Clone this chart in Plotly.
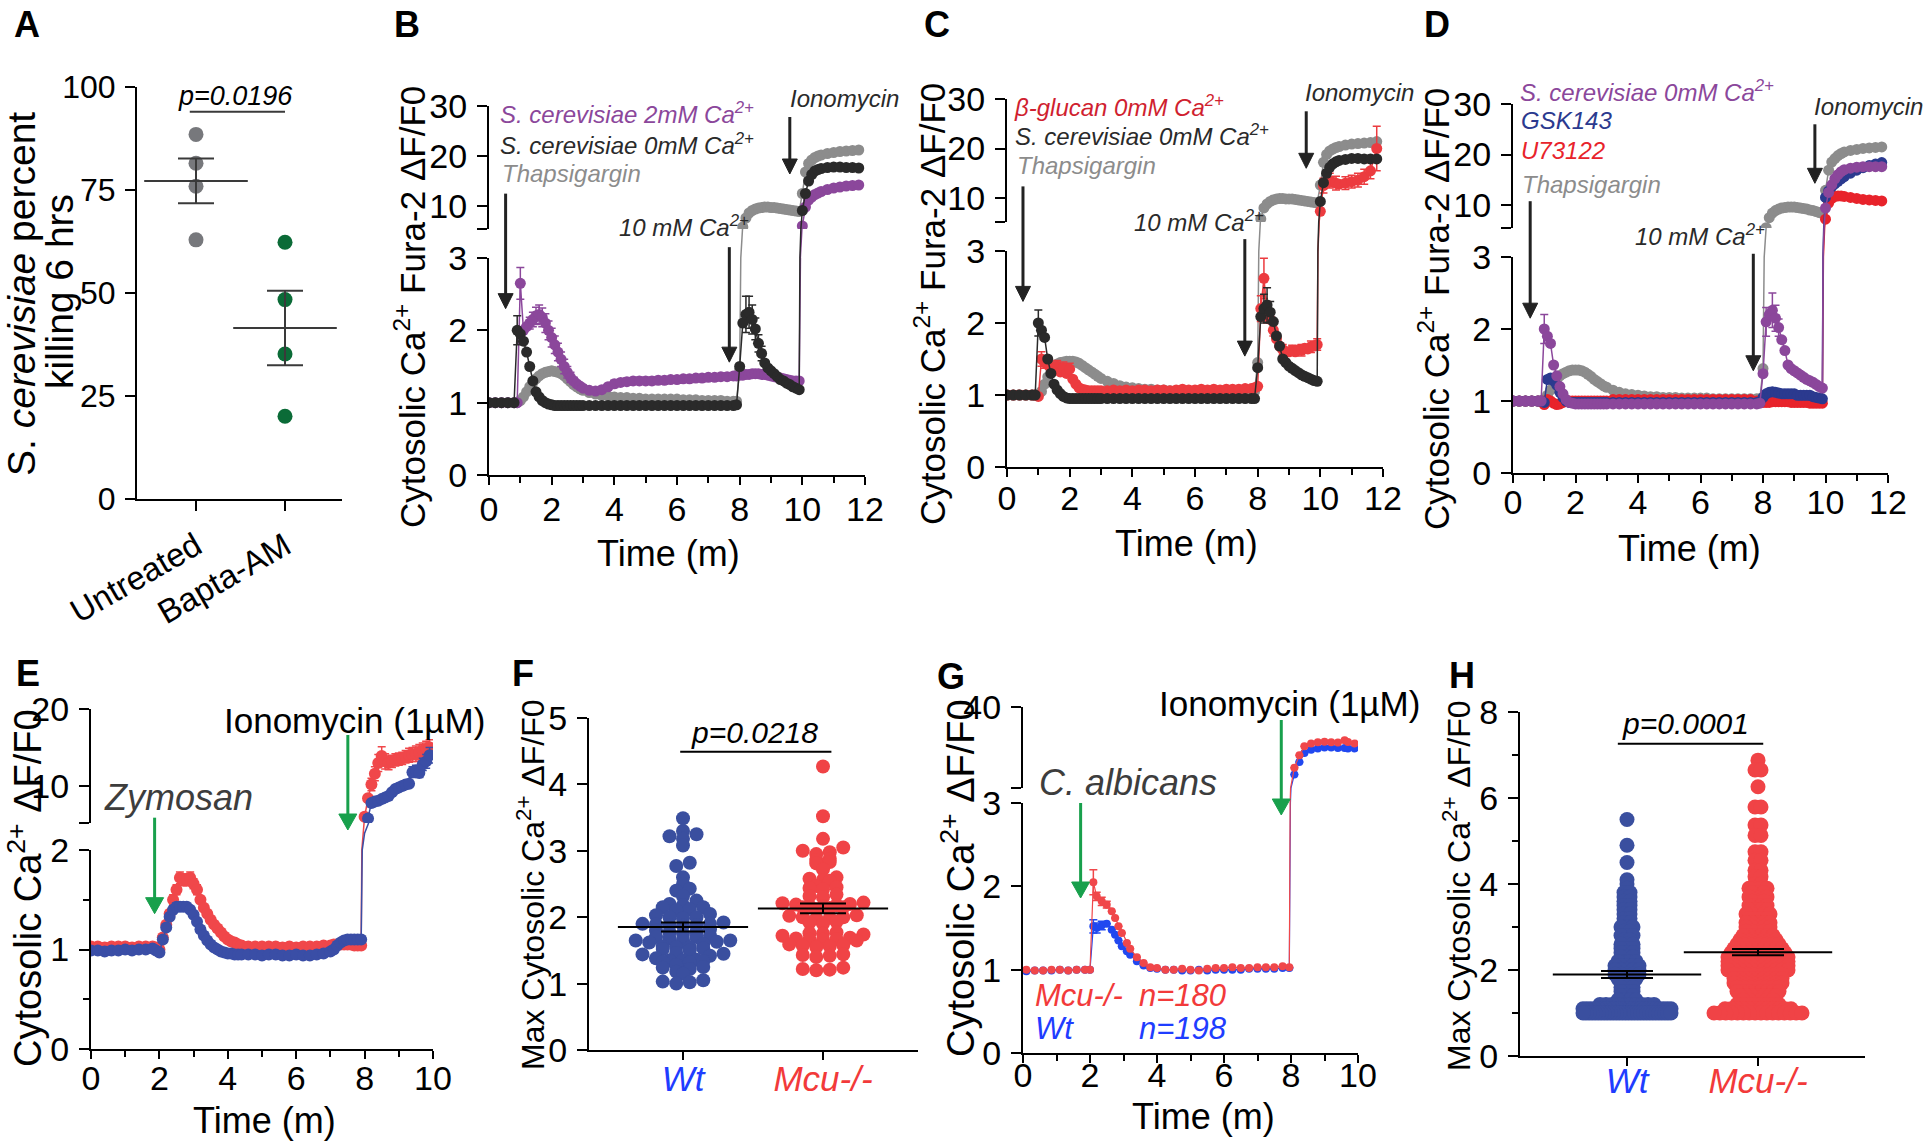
import math
import numpy as np
import plotly.graph_objects as go

# ======================= DATA =======================
# ---- Panel A ----
A_CATEGORIES = ["Untreated", "Bapta-AM"]
A_UNTREATED = [88.5, 81.5, 75.9, 62.9]
A_BAPTA = [62.3, 48.4, 35.2, 20.1]

# ---- Panels B-D (time in minutes) ----
TIME_BCD = [0.0, 0.2, 0.4, 0.6, 0.8,
            0.9, 1.0, 1.1, 1.2, 1.3, 1.4, 1.5, 1.6, 1.7, 1.8, 1.9, 2.0, 2.1, 2.2, 2.3, 2.4, 2.5, 2.6, 2.7, 2.8, 2.9, 3.0,
            3.2, 3.4, 3.6, 3.8, 4.0, 4.2, 4.4, 4.6, 4.8, 5.0, 5.2, 5.4, 5.6, 5.8, 6.0, 6.2, 6.4, 6.6, 6.8, 7.0, 7.2, 7.4, 7.6,
            7.8, 7.9, 8.0, 8.1, 8.2, 8.3, 8.4, 8.5, 8.6, 8.7, 8.8, 8.9, 9.0, 9.1, 9.2, 9.3, 9.4, 9.5, 9.6, 9.7, 9.8, 9.9,
            10.0, 10.1, 10.2, 10.3, 10.4, 10.5, 10.6,
            10.8, 11.0, 11.2, 11.4, 11.6, 11.8]

B_SC_2MM = [1.0, 1.0, 1.0, 1.0, 1.0,
            1.0, 2.65, 2.0, 2.05, 2.1, 2.15, 2.2, 2.22, 2.18, 2.1, 2.0, 1.9, 1.8, 1.7, 1.6, 1.5, 1.42, 1.35, 1.3, 1.26, 1.23, 1.2,
            1.17, 1.16, 1.18, 1.22, 1.26, 1.28, 1.29, 1.3, 1.3, 1.3, 1.3, 1.31, 1.31, 1.32, 1.32, 1.33, 1.33, 1.34, 1.34, 1.35, 1.35, 1.36, 1.36,
            1.37, 1.37, 1.38, 1.38, 1.39, 1.39, 1.4, 1.4, 1.4, 1.39, 1.39, 1.38, 1.37, 1.36, 1.35, 1.34, 1.33, 1.32, 1.31, 1.3, 1.3, 1.3,
            6.0, 9.8, 11.2, 11.8, 12.3, 12.6, 12.9,
            13.3, 13.6, 13.8, 14.0, 14.1, 14.2]
B_SC_0MM = [1.0, 1.0, 1.0, 1.0, 1.0,
            2.0, 1.95, 1.85, 1.7, 1.5, 1.3, 1.15, 1.08, 1.03, 1.0, 0.98, 0.97, 0.96, 0.96, 0.96, 0.96, 0.96, 0.96, 0.96, 0.96, 0.96, 0.96,
            0.96, 0.96, 0.96, 0.96, 0.96, 0.96, 0.96, 0.96, 0.96, 0.96, 0.96, 0.96, 0.96, 0.96, 0.96, 0.96, 0.96, 0.96, 0.96, 0.96, 0.96, 0.96, 0.96,
            0.96, 0.97, 1.5, 2.1, 2.22, 2.25, 2.15, 2.02, 1.82, 1.68, 1.55, 1.48, 1.44, 1.4, 1.36, 1.32, 1.3, 1.27, 1.25, 1.22, 1.2, 1.18,
            9.1, 12.5, 15.0, 16.3, 17.0, 17.3, 17.5,
            17.7, 17.8, 17.8, 17.7, 17.7, 17.6]
B_THAPS = [1.0, 1.0, 1.0, 1.0, 1.0,
           1.0, 1.03, 1.08, 1.15, 1.22, 1.28, 1.33, 1.37, 1.4, 1.42, 1.43, 1.44, 1.43, 1.42, 1.4, 1.37, 1.33, 1.29, 1.25, 1.22, 1.19, 1.17,
           1.14, 1.12, 1.1, 1.09, 1.08, 1.07, 1.07, 1.06, 1.06, 1.05, 1.05, 1.05, 1.05, 1.05, 1.05, 1.04, 1.04, 1.04, 1.03, 1.03, 1.03, 1.03, 1.02,
           1.02, 1.02, 1.45, 5.8, 7.6, 8.6, 9.1, 9.4, 9.6, 9.7, 9.8, 9.8, 9.7, 9.7, 9.6, 9.5, 9.4, 9.3, 9.2, 9.1, 9.0, 8.9,
           12.5, 16.8, 18.5, 19.2, 19.7, 20.0, 20.2,
           20.5, 20.7, 20.9, 21.0, 21.1, 21.2]
B_SC_2MM_ERR = {1.0: 0.22, 1.3: 0.08, 1.4: 0.1, 1.5: 0.12, 1.6: 0.13, 1.7: 0.13, 1.8: 0.13, 1.9: 0.13, 2.0: 0.13,
                2.1: 0.12, 2.2: 0.12, 2.3: 0.1, 2.4: 0.1, 2.5: 0.08, 2.6: 0.07, 2.7: 0.05, 4.0: 0.05, 4.4: 0.05,
                4.8: 0.05, 5.2: 0.05, 5.6: 0.05, 6.0: 0.05, 6.4: 0.05, 6.8: 0.05, 7.2: 0.05, 7.6: 0.05}
B_SC_0MM_ERR = {0.9: 0.2, 8.2: 0.25, 8.3: 0.22, 8.4: 0.2, 8.5: 0.15, 8.6: 0.12, 8.7: 0.1}

C_BGLUCAN = [1.0, 1.0, 1.0, 1.0, 1.0,
             1.0, 0.98, 1.5, 1.45, 1.42, 1.38, 1.35, 1.4, 1.32, 1.38, 1.3, 1.36, 1.22, 1.15, 1.1, 1.08, 1.07, 1.06, 1.06, 1.06, 1.06, 1.06,
             1.06, 1.07, 1.06, 1.07, 1.06, 1.07, 1.07, 1.06, 1.07, 1.07, 1.06, 1.07, 1.08, 1.07, 1.07, 1.08, 1.07, 1.08, 1.07, 1.08, 1.08, 1.08, 1.09,
             1.09, 1.1, 1.12, 2.2, 2.62, 2.15, 2.05, 1.9, 1.78, 1.68, 1.63, 1.6, 1.6, 1.62, 1.6, 1.63, 1.62, 1.65, 1.64, 1.67, 1.68, 1.7,
             7.3, 12.5, 13.2, 13.5, 13.2, 13.0, 12.8,
             13.0, 13.3, 13.6, 14.3, 15.5, 20.0]
C_SC_0MM = [1.0, 1.0, 1.0, 1.0, 1.0,
            1.0, 2.0, 1.9, 1.8, 1.5, 1.3, 1.15, 1.07, 1.02, 0.98, 0.96, 0.95, 0.95, 0.95, 0.95, 0.95, 0.95, 0.95, 0.95, 0.95, 0.95, 0.95,
            0.95, 0.95, 0.95, 0.95, 0.95, 0.95, 0.95, 0.95, 0.95, 0.95, 0.95, 0.95, 0.95, 0.95, 0.95, 0.95, 0.95, 0.95, 0.95, 0.95, 0.95, 0.95, 0.95,
            0.95, 0.95, 1.38, 2.09, 2.2, 2.25, 2.15, 2.02, 1.82, 1.68, 1.5, 1.45, 1.4, 1.37, 1.34, 1.31, 1.28, 1.26, 1.24, 1.22, 1.2, 1.19,
            9.3, 13.1, 15.0, 16.2, 16.9, 17.3, 17.6,
            17.8, 18.0, 18.0, 17.9, 17.9, 17.9]
C_THAPS = [1.0, 1.0, 1.0, 1.0, 1.0,
           1.0, 1.0, 1.05, 1.15, 1.25, 1.35, 1.4, 1.43, 1.45, 1.46, 1.47, 1.47, 1.47, 1.46, 1.44, 1.41, 1.38, 1.35, 1.32, 1.29, 1.26, 1.23,
           1.19, 1.16, 1.13, 1.11, 1.1, 1.09, 1.08, 1.08, 1.07, 1.07, 1.06, 1.06, 1.06, 1.06, 1.06, 1.05, 1.05, 1.05, 1.05, 1.05, 1.05, 1.05, 1.05,
           1.05, 1.05, 1.45, 5.8, 8.0, 8.8, 9.3, 9.6, 9.8, 9.9, 9.9, 9.8, 9.8, 9.8, 9.7, 9.6, 9.5, 9.4, 9.3, 9.2, 9.1, 9.0,
           12.6, 17.2, 18.8, 19.5, 19.9, 20.2, 20.4,
           20.7, 20.9, 21.0, 21.1, 21.2, 21.4]
C_SC_0MM_ERR = {1.0: 0.18, 8.2: 0.2, 8.3: 0.24, 8.4: 0.15}
C_BGLUCAN_ERR = {1.1: 0.1, 1.2: 0.08, 1.4: 0.08, 1.6: 0.08, 1.8: 0.08, 2.0: 0.08, 8.1: 0.18, 8.2: 0.28, 8.3: 0.15,
                 8.5: 0.08, 8.8: 0.07, 9.1: 0.07, 9.4: 0.08, 9.7: 0.08, 9.9: 0.08, 10.1: 1.5, 10.3: 1.5, 10.5: 1.4,
                 10.8: 1.3, 11.0: 1.3, 11.2: 1.4, 11.4: 1.5, 11.6: 1.6, 11.8: 4.5}

D_SC_0MM = [1.0, 1.0, 1.0, 1.0, 1.0,
            1.0, 2.0, 1.9, 1.8, 1.5, 1.35, 1.2, 1.1, 1.02, 0.98, 0.97, 0.96, 0.96, 0.96, 0.96, 0.96, 0.96, 0.96, 0.96, 0.96, 0.96, 0.96,
            0.96, 0.96, 0.96, 0.96, 0.96, 0.96, 0.96, 0.96, 0.96, 0.96, 0.96, 0.96, 0.96, 0.96, 0.96, 0.96, 0.96, 0.96, 0.96, 0.96, 0.96, 0.96, 0.96,
            0.96, 0.97, 1.38, 2.1, 2.2, 2.26, 2.15, 2.02, 1.85, 1.7, 1.5, 1.45, 1.42, 1.39, 1.36, 1.33, 1.3, 1.28, 1.26, 1.23, 1.2, 1.18,
            9.4, 12.5, 14.0, 15.2, 16.0, 16.6, 17.0,
            17.3, 17.5, 17.6, 17.6, 17.6, 17.6]
D_GSK143 = [1.0, 1.0, 1.0, 1.0, 1.0,
            1.0, 0.98, 1.3, 1.32, 1.28, 1.22, 1.12, 1.05, 1.0, 0.98, 0.98, 0.98, 0.98, 0.98, 0.98, 0.98, 0.98, 0.98, 0.98, 0.98, 0.98, 0.98,
            0.98, 0.98, 0.98, 0.98, 0.98, 0.98, 0.98, 0.98, 0.98, 0.98, 0.98, 0.98, 0.98, 0.98, 0.98, 0.98, 0.98, 0.98, 0.98, 0.98, 0.98, 0.98, 0.98,
            0.98, 0.98, 1.05, 1.1, 1.12, 1.13, 1.12, 1.11, 1.1, 1.1, 1.1, 1.1, 1.1, 1.08, 1.08, 1.08, 1.08, 1.08, 1.06, 1.05, 1.04, 1.03,
            11.5, 12.8, 13.6, 14.2, 14.7, 15.2, 15.6,
            16.3, 16.9, 17.4, 17.8, 18.1, 18.4]
D_U73122 = [1.0, 1.0, 1.0, 1.0, 1.0,
            1.0, 0.95, 1.02, 1.0, 0.97, 0.95, 0.96, 0.98, 1.0, 1.0, 1.0, 1.0, 1.0, 1.0, 1.0, 1.0, 1.0, 1.0, 1.0, 1.0, 1.0, 1.0,
            1.02, 1.02, 1.02, 1.02, 1.02, 1.02, 1.02, 1.02, 1.02, 1.02, 1.02, 1.02, 1.02, 1.02, 1.02, 1.02, 1.02, 1.02, 1.02, 1.02, 1.02, 1.02, 1.02,
            1.0, 1.0, 0.98, 0.98, 0.98, 0.99, 0.99, 0.99, 0.99, 0.99, 0.99, 0.98, 0.98, 0.98, 0.98, 0.98, 0.98, 0.97, 0.97, 0.97, 0.97, 0.97,
            7.2, 10.4, 11.3, 11.7, 11.8, 11.8, 11.7,
            11.5, 11.3, 11.1, 11.0, 10.9, 10.8]
D_THAPS = [1.0, 1.0, 1.0, 1.0, 1.0,
           1.0, 1.0, 1.08, 1.15, 1.23, 1.3, 1.35, 1.38, 1.4, 1.42, 1.43, 1.43, 1.43, 1.42, 1.4, 1.37, 1.34, 1.3, 1.27, 1.24, 1.21, 1.19,
           1.15, 1.12, 1.1, 1.09, 1.08, 1.07, 1.06, 1.06, 1.05, 1.05, 1.05, 1.04, 1.04, 1.04, 1.04, 1.04, 1.03, 1.03, 1.03, 1.03, 1.03, 1.03, 1.03,
           1.03, 1.03, 1.45, 5.5, 7.5, 8.4, 8.9, 9.2, 9.4, 9.5, 9.6, 9.6, 9.6, 9.5, 9.4, 9.3, 9.2, 9.0, 8.9, 8.7, 8.5, 8.3,
           12.9, 16.9, 18.5, 19.2, 19.8, 20.2, 20.5,
           20.8, 21.0, 21.2, 21.3, 21.4, 21.5]
D_SC_0MM_ERR = {1.0: 0.2, 8.1: 0.2, 8.3: 0.24, 8.4: 0.18, 8.5: 0.12}

# ---- Panel E (zymosan) ----
TIME_E = [0.0, 0.2, 0.4, 0.6, 0.8, 1.0, 1.2, 1.4, 1.6, 1.8,
          1.9, 2.0, 2.1, 2.2, 2.3, 2.4, 2.5, 2.6, 2.7, 2.8, 2.9, 3.0, 3.1, 3.2, 3.3, 3.4, 3.5, 3.6, 3.7, 3.8, 3.9, 4.0, 4.1, 4.2, 4.3, 4.4,
          4.6, 4.8, 5.0, 5.2, 5.4, 5.6, 5.8, 6.0, 6.2, 6.4, 6.6, 6.8, 7.0,
          7.1, 7.2, 7.3, 7.4, 7.5, 7.6, 7.7, 7.8, 7.9, 8.0, 8.1, 8.2, 8.3, 8.4, 8.5, 8.6, 8.7, 8.8, 8.9, 9.0, 9.1, 9.2, 9.3, 9.4,
          9.5, 9.6, 9.7, 9.8, 9.9]
E_MCU = [1.03, 1.03, 1.02, 1.03, 1.03, 1.03, 1.02, 1.03, 1.03, 1.03,
         1.02, 1.0, 1.12, 1.25, 1.36, 1.5, 1.6, 1.72, 1.7, 1.7, 1.72, 1.66, 1.6, 1.5, 1.42, 1.36, 1.3, 1.25, 1.21, 1.17, 1.13, 1.1, 1.08, 1.07, 1.05, 1.04,
         1.03, 1.03, 1.03, 1.03, 1.03, 1.02, 1.03, 1.02, 1.03, 1.03, 1.03, 1.04, 1.04,
         1.05, 1.05, 1.05, 1.05, 1.05, 1.05, 1.04, 1.04, 1.04, 6.0, 8.4, 10.2, 11.6, 13.0, 13.9, 13.2, 13.0, 13.2, 13.4, 13.5, 13.6, 13.8, 14.0, 14.1,
         14.2, 14.4, 14.6, 14.8, 15.0]
E_WT = [0.99, 0.99, 0.98, 0.99, 0.99, 1.0, 0.99, 1.0, 1.0, 1.01,
        0.99, 0.97, 1.1, 1.22, 1.33, 1.4, 1.43, 1.43, 1.43, 1.43, 1.4, 1.35, 1.28, 1.2, 1.14, 1.09, 1.05, 1.02, 1.0, 0.98, 0.97, 0.96, 0.96, 0.95, 0.95, 0.95,
        0.95, 0.95, 0.94, 0.95, 0.95, 0.94, 0.94, 0.95, 0.94, 0.94, 0.95, 0.96, 0.98,
        1.0, 1.04, 1.07, 1.09, 1.1, 1.1, 1.1, 1.1, 1.1, 4.0, 5.8, 7.8, 8.0, 8.1, 8.3, 8.5, 8.7, 9.2, 9.6, 9.8, 10.0, 10.2, 10.3, 11.8,
        12.0, 11.7, 12.8, 13.2, 14.0]
E_MCU_ERR = {2.4: 0.05, 2.5: 0.05, 2.6: 0.06, 2.7: 0.06, 2.8: 0.06, 2.9: 0.06, 3.0: 0.05, 3.1: 0.05, 8.2: 0.8, 8.3: 0.9,
             8.4: 1.1, 8.5: 1.2, 8.6: 1.0, 8.7: 0.9, 8.8: 0.8, 8.9: 0.8, 9.0: 0.8, 9.1: 0.8, 9.2: 0.8, 9.3: 0.9, 9.4: 0.9,
             9.5: 1.0, 9.6: 1.0, 9.7: 1.0, 9.8: 1.0, 9.9: 1.0}
E_WT_ERR = {2.4: 0.04, 2.5: 0.04, 2.6: 0.04, 2.7: 0.04, 9.4: 0.7, 9.5: 0.7, 9.6: 0.6, 9.7: 0.8, 9.8: 0.9, 9.9: 1.0}

# ---- Panel F ----
F_CATEGORIES = ["Wt", "Mcu-/-"]
F_WT = [3.49, 3.30, 3.25, 3.22, 3.18, 3.08, 2.82, 2.77, 2.60, 2.50, 2.43, 2.40, 2.32, 2.25, 2.20,
        2.18, 2.15, 2.15, 2.12, 2.10, 2.05, 2.03, 2.00, 2.00, 1.98, 1.92, 1.90, 1.90, 1.89, 1.88, 1.88, 1.87,
        1.82, 1.80, 1.78, 1.77, 1.75, 1.72, 1.70, 1.70, 1.68, 1.66, 1.65, 1.65, 1.63, 1.62, 1.60,
        1.56, 1.55, 1.55, 1.53, 1.52, 1.50, 1.46, 1.45, 1.44, 1.42, 1.38, 1.36, 1.35, 1.35, 1.34, 1.33, 1.32,
        1.28, 1.25, 1.24, 1.22, 1.18, 1.15, 1.05, 1.03, 1.02, 1.00]
F_MCU = [4.27, 3.52, 3.18, 3.05, 3.00, 2.98, 2.95, 2.88, 2.86, 2.83, 2.81, 2.72,
         2.60, 2.58, 2.56, 2.55, 2.47, 2.45, 2.44, 2.42, 2.34, 2.32, 2.30,
         2.22, 2.21, 2.20, 2.19, 2.18, 2.17, 2.16, 2.15, 2.15, 2.14, 2.12,
         2.03, 2.02, 2.00, 2.00, 1.99, 1.98, 1.93, 1.92, 1.90,
         1.77, 1.76, 1.75, 1.74, 1.72, 1.69, 1.68, 1.67, 1.66, 1.66, 1.65,
         1.59, 1.58, 1.57, 1.56, 1.55, 1.44, 1.43, 1.42, 1.40, 1.24, 1.22, 1.21, 1.20]

# ---- Panel G (C. albicans) ----
TIME_G = [0.1, 0.35, 0.6, 0.85, 1.1, 1.35, 1.6, 1.85,
          2.0, 2.1, 2.2, 2.35, 2.5, 2.65, 2.75, 2.85, 2.95, 3.1, 3.2, 3.4, 3.6, 3.8, 4.0,
          4.25, 4.5, 4.75, 5.0, 5.25, 5.5, 5.75, 6.0, 6.25, 6.5, 6.75, 7.0, 7.25, 7.5, 7.75,
          7.95, 8.1, 8.25, 8.4, 8.6, 8.8, 9.0, 9.2, 9.4, 9.6, 9.7, 9.9]
G_MCU = [1.0, 0.99, 0.99, 1.0, 1.0, 0.99, 1.0, 1.0,
         1.0, 2.05, 1.88, 1.82, 1.78, 1.7, 1.62, 1.52, 1.44, 1.32, 1.25, 1.15, 1.08, 1.03, 1.02,
         1.0, 1.0, 1.01, 1.0, 0.99, 1.01, 1.02, 1.02, 1.03, 1.02, 1.02, 1.03, 1.03, 1.03, 1.04,
         1.03, 13.0, 18.5, 22.5, 23.8, 24.3, 24.6, 24.3, 24.2, 25.2, 24.5, 23.8]
G_WT = [0.98, 0.99, 0.99, 0.99, 1.0, 0.99, 1.0, 1.0,
        1.0, 1.52, 1.5, 1.53, 1.55, 1.48, 1.42, 1.35, 1.28, 1.22, 1.18, 1.1, 1.05, 1.02, 1.01,
        1.0, 1.0, 0.99, 0.99, 1.0, 0.99, 1.0, 1.0, 1.0, 1.0, 1.01, 1.01, 1.01, 1.01, 1.02,
        1.02, 10.0, 15.5, 19.5, 21.0, 21.6, 22.0, 22.0, 21.8, 21.8, 21.6, 21.6]
G_MCU_ERR = {2.1: 0.15, 2.2: 0.05, 2.35: 0.05, 2.5: 0.04}
G_WT_ERR = {2.1: 0.08, 2.2: 0.06, 2.35: 0.05}

# ---- Panel H (value levels and number of cells at each level) ----
H_WT_LEVELS = [5.5, 4.9, 4.5, 4.1, 4.0, 3.9, 3.8, 3.7, 3.6, 3.5, 3.4, 3.3, 3.2, 3.1, 3.0, 2.9, 2.8, 2.7,
               2.6, 2.5, 2.4, 2.3, 2.2, 2.1, 2.0, 1.9, 1.8, 1.7, 1.6, 1.5, 1.4, 1.3, 1.2, 1.1, 1.0]
H_WT_COUNTS = [1, 1, 1, 1, 1, 1, 2, 2, 2, 2, 2, 2, 2, 2, 3, 2, 3, 2,
               3, 3, 3, 3, 4, 5, 5, 5, 4, 3, 3, 3, 3, 4, 10, 24, 30]
H_MCU_LEVELS = [6.88, 6.65, 6.26, 5.79, 5.37, 5.13, 4.75, 4.55, 4.32, 4.17, 4.0,
                3.9, 3.8, 3.7, 3.6, 3.5, 3.4, 3.3, 3.2, 3.1, 3.0, 2.9, 2.8, 2.7, 2.6, 2.5, 2.4, 2.3, 2.2, 2.1, 2.0,
                1.9, 1.8, 1.7, 1.6, 1.5, 1.4, 1.3, 1.2, 1.1, 1.0]
H_MCU_COUNTS = [1, 2, 1, 2, 2, 2, 2, 2, 2, 2, 2,
                4, 3, 4, 3, 4, 4, 5, 4, 5, 5, 5, 6, 7, 8, 9, 10, 11, 11, 11, 11,
                9, 9, 9, 8, 8, 7, 6, 8, 12, 16]

P_TEXT_A = "p=0.0196"
P_TEXT_F = "p=0.0218"
P_TEXT_H = "p=0.0001"

# ======================= STYLE / GEOMETRY =======================
W, H = 1924, 1143
FONT = "Liberation Sans, Arial, Helvetica, sans-serif"
NARROW = "Liberation Sans Narrow, Arial Narrow, Liberation Sans, Arial, sans-serif"

PURPLE = "#8b479b"
DARK = "#2a2a2a"
GRAY = "#8c8c8c"
RED = "#ec3b3f"
CRIMSON = "#d01f30"
NAVY = "#2b3a8f"
DRED = "#e8232b"
E_RED = "#f0474a"
E_BLUE = "#3a4ea6"
G_BLUE = "#2148f0"
WT_MK = "#3a4f9f"
MCU_MK = "#f04346"
TXT_BLUE = "#1f3dff"
TXT_RED = "#f23a3a"
GREEN = "#18a04c"
A_GRAY = "#77787c"
A_GREEN = "#0b6b37"
LBL_GRAY = "#3d3d3d"
TICK_SIZE = 34


def xdom(a, b):
    return [a / W, b / W]


def ydom(top, bottom):
    return [1 - bottom / H, 1 - top / H]


def px(x):
    return x / W


def py(y):
    return 1 - y / H


def xr(n):
    return "x" if n == 1 else f"x{n}"


def yr(n):
    return "y" if n == 1 else f"y{n}"


def xk(n):
    return "xaxis" if n == 1 else f"xaxis{n}"


def yk(n):
    return "yaxis" if n == 1 else f"yaxis{n}"


fig = go.Figure()
layout = dict(template="none", width=W, height=H, autosize=False,
              margin=dict(l=0, r=0, t=0, b=0, pad=0, autoexpand=False), paper_bgcolor="white",
              plot_bgcolor="rgba(0,0,0,0)", showlegend=False, font=dict(family=FONT, color="black"))
annotations = []
shapes = []
YGEOM = {}   # y-axis number -> (top px, bottom px, lo, hi)

MINOR = dict(ticks="outside", ticklen=6, tickwidth=2, tickcolor="black")


def base_axis(**kw):
    d = dict(showgrid=False, zeroline=False, showline=True, linecolor="black", linewidth=2,
             ticks="outside", ticklen=10, tickwidth=2, tickcolor="black", fixedrange=True, automargin=False,
             tickfont=dict(family=FONT, size=TICK_SIZE, color="black"), ticklabelstandoff=3)
    d.update(kw)
    return d


def ypaper(yn, v):
    top, bottom, lo, hi = YGEOM[yn]
    return py(bottom - (v - lo) / (hi - lo) * (bottom - top))


def time_panel(xn, yns, xpx, xmax, lower_px, lower_rng, lower_ticks, upper_px, upper_rng,
               upper_ticks, upper_break, xstand, lower_minor=None):
    yl, yg, yu = yns
    layout[xk(xn)] = base_axis(domain=xdom(*xpx), range=[0, xmax], anchor=yr(yl), tickmode="array",
                               tickvals=list(range(0, xmax + 1, 2)), ticklen=8, ticklabelstandoff=xstand,
                               minor=dict(tickmode="linear", tick0=0, dtick=1, **MINOR))
    ly = base_axis(domain=ydom(*lower_px), range=lower_rng, anchor=xr(xn), tickmode="array",
                   tickvals=lower_ticks)
    if lower_minor:
        ly["minor"] = dict(tickmode="array", tickvals=lower_minor, **MINOR)
    layout[yk(yl)] = ly
    YGEOM[yl] = (lower_px[0], lower_px[1], lower_rng[0], lower_rng[1])
    YGEOM[yu] = (upper_px[0], upper_px[1], upper_rng[0], upper_rng[1])
    layout[yk(yg)] = dict(domain=ydom(upper_px[1], lower_px[0]), range=[lower_rng[1], upper_rng[0]],
                          anchor=xr(xn), visible=False, fixedrange=True, automargin=False)
    layout[yk(yu)] = base_axis(domain=ydom(*upper_px), range=upper_rng, anchor=xr(xn), tickmode="array",
                               tickvals=upper_ticks,
                               minor=dict(tickmode="array", tickvals=[upper_break], ticks="outside",
                                          ticklen=10, tickwidth=2, tickcolor="black"))


def add_series(xn, yns, t, v, color, size, err=None, lw=1.5):
    assert len(t) == len(v), (len(t), len(v))
    yl, yg, yu = yns
    ey = None
    if err is not None:
        ey = dict(type="data", array=[err.get(tt, 0.0) for tt in t], visible=True, color=color,
                  thickness=1.5, width=4)
    for yn in (yl, yu):
        fig.add_trace(go.Scatter(x=t, y=v, mode="lines+markers", xaxis=xr(xn), yaxis=yr(yn),
                                 marker=dict(size=size, color=color, line=dict(width=0)),
                                 line=dict(color=color, width=lw), error_y=ey, cliponaxis=True,
                                 showlegend=False, hoverinfo="skip"))
    fig.add_trace(go.Scatter(x=t, y=v, mode="lines", xaxis=xr(xn), yaxis=yr(yg),
                             line=dict(color=color, width=lw), showlegend=False, hoverinfo="skip"))


def text(txt, x, y, size, color="black", xanchor="left", yanchor="middle", angle=0, family=FONT,
         xref="paper", yref="paper"):
    annotations.append(dict(text=txt, x=x, y=y, xref=xref, yref=yref, showarrow=False,
                            xanchor=xanchor, yanchor=yanchor, textangle=angle,
                            font=dict(family=family, size=size, color=color)))


def arrow(x, xref, ytip_paper, length, color, width=3, head_w=15, head_l=15):
    # shaft + triangular head, sized in pixels, anchored at the arrow tip
    shapes.append(dict(type="line", xref=xref, yref="paper", xsizemode="pixel", ysizemode="pixel",
                       xanchor=x, yanchor=ytip_paper, x0=0, x1=0, y0=head_l - 2, y1=length,
                       line=dict(color=color, width=width)))
    hw = head_w / 2.0
    shapes.append(dict(type="path", xref=xref, yref="paper", xsizemode="pixel", ysizemode="pixel",
                       xanchor=x, yanchor=ytip_paper,
                       path="M%.1f,%.1f L%.1f,%.1f L0,0 Z" % (-hw, head_l, hw, head_l),
                       fillcolor=color, line=dict(color=color, width=1)))


def row_offsets(values, bin_units, spacing, maxw):
    """Scatter-dot-plot layout: values binned into rows, each row centred, side by side."""
    rows = {}
    for i, v in enumerate(values):
        rows.setdefault(int(round(v / bin_units)), []).append(i)
    out = [0.0] * len(values)
    for key, idxs in rows.items():
        idxs.sort(key=lambda i: values[i])
        k = len(idxs)
        s = spacing if k <= 1 else min(spacing, maxw / (k - 1))
        pos = sorted([(j - (k - 1) / 2.0) * s for j in range(k)], key=lambda p: (abs(p), p))
        for i, p in zip(idxs, pos):
            out[i] = p
    return out


def cat_axis(left, right, c0, c1):
    unit = c1 - c0
    return [(left - c0) / unit, (right - c0) / unit], unit


def mean_sem(xn, yn, xc, vals, linelen, capw, color):
    arr = np.asarray(vals, dtype=float)
    m = float(arr.mean())
    s = float(arr.std(ddof=1) / math.sqrt(len(arr)))
    fig.add_trace(go.Scatter(x=[xc], y=[m], mode="markers", xaxis=xr(xn), yaxis=yr(yn),
                             marker=dict(symbol="line-ew", size=linelen, color=color,
                                         line=dict(width=2, color=color)),
                             error_y=dict(type="data", array=[s], color=color, thickness=2, width=capw),
                             showlegend=False, hoverinfo="skip", cliponaxis=False))


# ======================= PANEL A =======================
a_rng, a_unit = cat_axis(137, 342, 196, 285)
layout[xk(1)] = base_axis(domain=xdom(137, 342), range=a_rng, anchor="y", tickmode="array", tickvals=[0, 1],
                          ticktext=A_CATEGORIES, tickangle=-30,
                          tickfont=dict(family=FONT, size=33, color="black"))
layout[yk(1)] = base_axis(domain=ydom(87, 499), range=[0, 100], anchor="x", tickmode="array",
                          tickvals=[0, 25, 50, 75, 100], tickfont=dict(family=FONT, size=32, color="black"))
fig.add_trace(go.Scatter(x=[0] * len(A_UNTREATED), y=A_UNTREATED, mode="markers", xaxis="x", yaxis="y",
                         marker=dict(size=15, color=A_GRAY), showlegend=False, cliponaxis=False))
fig.add_trace(go.Scatter(x=[1] * len(A_BAPTA), y=A_BAPTA, mode="markers", xaxis="x", yaxis="y",
                         marker=dict(size=15, color=A_GREEN), showlegend=False, cliponaxis=False))
mean_sem(1, 1, 0, A_UNTREATED, 74, 18, "#3a3a3a")
mean_sem(1, 1, 1, A_BAPTA, 74, 18, "#3a3a3a")
shapes.append(dict(type="line", xref="x", yref="y", x0=-0.07, x1=1.0, y0=94, y1=94,
                   line=dict(color="#3a3a3a", width=2)))
text("<i>" + P_TEXT_A + "</i>", 0.44, 97.8, 27, xanchor="center", xref="x", yref="y")
text("S. <i>cerevisiae</i> percent", px(21), py(294), 39, xanchor="center", angle=-90)
text("killing 6 hrs", px(59), py(292), 39, xanchor="center", angle=-90)

# ======================= PANEL B =======================
YB = (2, 3, 4)
time_panel(2, YB, (489, 865), 12, (258, 475), [0, 3], [0, 1, 2, 3], (106, 229), [5.4, 30],
           [10, 20, 30], 5.45, -5)
add_series(2, YB, TIME_BCD, B_THAPS, GRAY, 11)
add_series(2, YB, TIME_BCD, B_SC_2MM, PURPLE, 11, B_SC_2MM_ERR)
add_series(2, YB, TIME_BCD, B_SC_0MM, DARK, 11, B_SC_0MM_ERR)

# ======================= PANEL C =======================
YC = (5, 6, 7)
time_panel(3, YC, (1007, 1383), 12, (251, 467), [0, 3], [0, 1, 2, 3], (99, 222), [5.15, 30],
           [10, 20, 30], 5.2, -8)
add_series(3, YC, TIME_BCD, C_THAPS, GRAY, 11)
add_series(3, YC, TIME_BCD, C_BGLUCAN, RED, 11, C_BGLUCAN_ERR)
add_series(3, YC, TIME_BCD, C_SC_0MM, DARK, 11, C_SC_0MM_ERR)

# ======================= PANEL D =======================
YD = (8, 9, 10)
time_panel(4, YD, (1513, 1888), 12, (257, 473), [0, 3], [0, 1, 2, 3], (104, 228), [5.45, 30],
           [10, 20, 30], 5.5, -10)
add_series(4, YD, TIME_BCD, D_THAPS, GRAY, 11)
add_series(4, YD, TIME_BCD, D_U73122, DRED, 11)
add_series(4, YD, TIME_BCD, D_GSK143, NAVY, 11)
add_series(4, YD, TIME_BCD, D_SC_0MM, PURPLE, 11, D_SC_0MM_ERR)

# ======================= PANEL E =======================
YE = (11, 12, 13)
time_panel(5, YE, (91, 433), 10, (850, 1049), [0, 2], [0, 1, 2], (709, 823), [5.2, 20],
           [10, 20], 5.25, -10, lower_minor=[0.5, 1.5])
add_series(5, YE, TIME_E, E_MCU, E_RED, 12, E_MCU_ERR)
add_series(5, YE, TIME_E, E_WT, E_BLUE, 12, E_WT_ERR)

# ======================= PANEL F =======================
f_rng, f_unit = cat_axis(589, 918, 683, 823)
layout[xk(6)] = base_axis(domain=xdom(589, 918), range=f_rng, anchor="y14", tickmode="array", tickvals=[0, 1],
                          ticktext=['<i><span style="color:%s">%s</span></i>' % (TXT_BLUE, F_CATEGORIES[0]),
                                    '<i><span style="color:%s">%s</span></i>' % (TXT_RED, F_CATEGORIES[1])],
                          tickfont=dict(family=FONT, size=35, color="black"), ticklen=8, ticklabelstandoff=-11)
layout[yk(14)] = base_axis(domain=ydom(718, 1050), range=[0, 5], anchor="x6", tickmode="array",
                           tickvals=[0, 1, 2, 3, 4, 5])
for ci, (vals, col) in enumerate([(F_WT, WT_MK), (F_MCU, MCU_MK)]):
    offs = row_offsets(vals, 0.1, 13.5, 200)
    fig.add_trace(go.Scatter(x=[ci + o / f_unit for o in offs], y=vals, mode="markers", xaxis="x6", yaxis="y14",
                             marker=dict(size=14, color=col), showlegend=False, cliponaxis=False,
                             hoverinfo="skip"))
mean_sem(6, 14, 0, F_WT, 93, 22, "black")
mean_sem(6, 14, 1, F_MCU, 93, 23, "black")
shapes.append(dict(type="line", xref="x6", yref="y14", x0=-0.02, x1=1.06, y0=4.49, y1=4.49,
                   line=dict(color="black", width=2)))
text("<i>" + P_TEXT_F + "</i>", 0.514, 4.78, 30, xanchor="center", family=NARROW, xref="x6", yref="y14")

# ======================= PANEL G =======================
YG = (15, 16, 17)
time_panel(7, YG, (1023, 1358), 10, (803, 1053), [0, 3], [0, 1, 2, 3], (707, 788), [4, 40],
           [40], 4.1, -17)
add_series(7, YG, TIME_G, G_WT, G_BLUE, 8, G_WT_ERR, lw=1.2)
add_series(7, YG, TIME_G, G_MCU, E_RED, 8, G_MCU_ERR, lw=1.2)

# ======================= PANEL H =======================
h_rng, h_unit = cat_axis(1520, 1865, 1627, 1758)
layout[xk(8)] = base_axis(domain=xdom(1520, 1865), range=h_rng, anchor="y18", tickmode="array", tickvals=[0, 1],
                          ticktext=['<i><span style="color:%s">%s</span></i>' % (TXT_BLUE, F_CATEGORIES[0]),
                                    '<i><span style="color:%s">%s</span></i>' % (TXT_RED, F_CATEGORIES[1])],
                          tickfont=dict(family=FONT, size=35, color="black"), ticklen=8, ticklabelstandoff=-15)
layout[yk(18)] = base_axis(domain=ydom(712, 1056), range=[0, 8], anchor="x8", tickmode="array",
                           tickvals=[0, 2, 4, 6, 8], minor=dict(tickmode="array", tickvals=[1, 3, 5, 7], **MINOR))
H_WT = [lv for lv, c in zip(H_WT_LEVELS, H_WT_COUNTS) for _ in range(c)]
H_MCU = [lv for lv, c in zip(H_MCU_LEVELS, H_MCU_COUNTS) for _ in range(c)]
for ci, (vals, col) in enumerate([(H_WT, WT_MK), (H_MCU, MCU_MK)]):
    offs = row_offsets(vals, 0.1, 6.0, 88)
    fig.add_trace(go.Scatter(x=[ci + o / h_unit for o in offs], y=vals, mode="markers", xaxis="x8", yaxis="y18",
                             marker=dict(size=15, color=col), showlegend=False, cliponaxis=False,
                             hoverinfo="skip"))
mean_sem(8, 18, 0, H_WT, 106, 26, "black")
mean_sem(8, 18, 1, H_MCU, 106, 26, "black")
shapes.append(dict(type="line", xref="x8", yref="y18", x0=-0.07, x1=1.04, y0=7.26, y1=7.26,
                   line=dict(color="black", width=2)))
text("<i>" + P_TEXT_H + "</i>", 0.45, 7.74, 30, xanchor="center", family=NARROW, xref="x8", yref="y18")

# ======================= TEXT: titles, labels =======================
CA = "Ca<sup>2+</sup>"
for lbl, x0, y0 in [("A", 12, 2), ("B", 392, 2), ("C", 922, 2), ("D", 1422, 2),
                    ("E", 14, 651), ("F", 510, 651), ("G", 935, 654), ("H", 1447, 653)]:
    text("<b>%s</b>" % lbl, px(x0), py(y0), 36, yanchor="top")

for cx, cy in [(410, 307), (930, 304), (1434, 309)]:
    text("Cytosolic %s Fura-2 ΔF/F0" % CA, px(cx), py(cy), 35, xanchor="center", angle=-90)
for cx, cy in [(25, 888), (958, 878)]:
    text("Cytosolic %s ΔF/F0" % CA, px(cx), py(cy), 38, xanchor="center", angle=-90)
for cx, cy in [(531, 885), (1457, 886)]:
    text("Max Cytosolic %s ΔF/F0" % CA, px(cx), py(cy), 32, xanchor="center", angle=-90)
for cx, cy in [(668, 553), (1186, 543), (1689, 548), (264, 1120), (1203, 1116)]:
    text("Time (m)", px(cx), py(cy), 36, xanchor="center")

# B labels
text("<i>S. cerevisiae 2mM %s</i>" % CA, px(498), py(113), 24, PURPLE)
text("<i>S. cerevisiae 0mM %s</i>" % CA, px(498), py(144), 24, DARK)
text("<i>Thapsigargin</i>", px(500), py(173), 24, GRAY)
text("<i>10 mM %s</i>" % CA, px(617), py(226), 24, DARK)
text("<i>Ionomycin</i>", px(788), py(99), 24, DARK)
arrow(0.53, "x2", ypaper(2, 2.30), 115, "#222222")
arrow(7.67, "x2", ypaper(2, 1.56), 115, "#222222")
arrow(9.6, "x2", ypaper(4, 16.4), 57, "#222222")

# C labels
text("<i>β-glucan 0mM %s</i>" % CA, px(1012), py(106), 24, CRIMSON)
text("<i>S. cerevisiae 0mM %s</i>" % CA, px(1013), py(135), 24, DARK)
text("<i>Thapsigargin</i>", px(1015), py(165), 24, GRAY)
text("<i>10 mM %s</i>" % CA, px(1132), py(221), 24, DARK)
text("<i>Ionomycin</i>", px(1303), py(92), 24, DARK)
arrow(0.51, "x3", ypaper(5, 2.30), 115, "#222222")
arrow(7.59, "x3", ypaper(5, 1.54), 117, "#222222")
arrow(9.55, "x3", ypaper(7, 16.0), 57, "#222222")

# D labels
text("<i>S. cerevisiae 0mM %s</i>" % CA, px(1518), py(91), 24, PURPLE)
text("<i>GSK143</i>", px(1519), py(120), 24, NAVY)
text("<i>U73122</i>", px(1519), py(151), 24, DRED)
text("<i>Thapsigargin</i>", px(1520), py(184), 24, GRAY)
text("<i>10 mM %s</i>" % CA, px(1633), py(235), 24, DARK)
text("<i>Ionomycin</i>", px(1812), py(106), 24, DARK)
arrow(0.55, "x4", ypaper(8, 2.15), 117, "#222222")
arrow(7.69, "x4", ypaper(8, 1.42), 117, "#222222")
arrow(9.66, "x4", ypaper(10, 14.3), 59, "#222222")

# E labels
text("<i>Zymosan</i>", px(102), py(797), 36, LBL_GRAY)
arrow(1.86, "x5", ypaper(11, 1.36), 96, GREEN, width=3, head_w=18, head_l=16)
text("Ionomycin (1µM)", px(222), py(720), 35)
arrow(7.51, "x5", py(830), 95, GREEN, width=3, head_w=18, head_l=16)

# G labels
text("<i>C. albicans</i>", px(1037), py(782), 36, LBL_GRAY)
arrow(1.72, "x7", ypaper(15, 1.86), 95, GREEN, width=3, head_w=18, head_l=16)
text("Ionomycin (1µM)", px(1157), py(703), 35)
arrow(7.71, "x7", py(815), 95, GREEN, width=3, head_w=18, head_l=16)
text("<i>Mcu-/-</i>", px(1033), py(995), 31, TXT_RED)
text("<i>n=180</i>", px(1137), py(995), 31, TXT_RED)
text("<i>Wt</i>", px(1033), py(1028), 31, TXT_BLUE)
text("<i>n=198</i>", px(1137), py(1028), 31, TXT_BLUE)

layout["annotations"] = annotations
layout["shapes"] = shapes
fig.update_layout(**layout)

fig.write_html("out.html", config={"staticPlot": True, "displayModeBar": False},
               post_script="document.body.style.margin='0';document.body.style.overflow='hidden';")
